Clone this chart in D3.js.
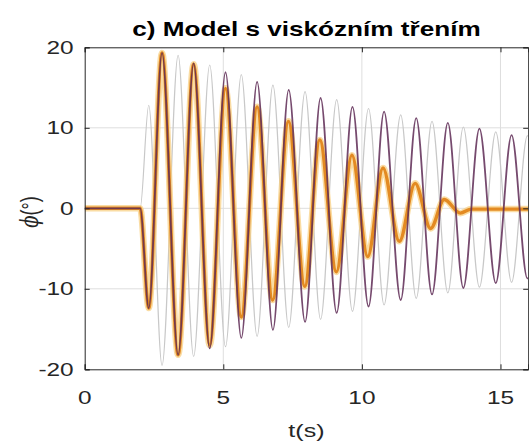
<!DOCTYPE html>
<html>
<head>
<meta charset="utf-8">
<script src="https://cdn.jsdelivr.net/npm/d3@7"></script>
<style>
  html, body { margin: 0; padding: 0; background: #fff; }
  svg { display: block; }
  text { font-family: "Liberation Sans", Arial, Helvetica, sans-serif; }
</style>
</head>
<body>
<svg id="chart" width="529" height="445"></svg>
<script>
// ---------- data ----------
const titleText = "c) Model s viskózním třením";
const xTicks = [0, 5, 10, 15];
const yTicks = [-20, -10, 0, 10, 20];
const xDomain = [0, 16];
const yDomain = [-20, 20];

// reference (grey) oscillation: extrema times and values
const greyT = [0, 2.0, 2.31, 2.79, 3.37, 3.93, 4.51, 5.08, 5.65, 6.22, 6.79, 7.36, 7.95, 8.51, 9.09, 9.66, 10.24, 10.80, 11.40, 11.96, 12.53, 13.10, 13.66, 14.24, 14.83, 15.40, 15.97, 16.0];
const greyV = [0, 0, 12.8, -19.5, 19.0, -18.4, 17.8, -17.2, 16.6, -15.9, 15.3, -14.8, 14.5, -13.8, 13.5, -12.8, 12.4, -12.0, 11.6, -11.2, 10.8, -10.5, 10.1, -9.8, 9.5, -9.2, 9.0, 9.0];

// purple oscillation (same time base of extrema)
const purpleT = [0, 2.0, 2.31, 2.79, 3.37, 3.93, 4.51, 5.08, 5.65, 6.22, 6.79, 7.36, 7.95, 8.51, 9.09, 9.66, 10.24, 10.80, 11.40, 11.96, 12.53, 13.10, 13.66, 14.24, 14.83, 15.40, 15.97, 16.0];
const purpleV = [0, 0, -12.4, 19.3, -18.2, 18.0, -17.4, 16.9, -16.1, 15.7, -15.1, 14.7, -14.1, 13.7, -13.0, 12.6, -12.2, 12.0, -11.4, 11.2, -10.7, 10.6, -9.9, 9.9, -9.3, 9.1, -8.7, -8.7];

// orange (viscous friction model) oscillation
const orangeT = [0, 2.0, 2.31, 2.79, 3.37, 3.93, 4.51, 5.08, 5.65, 6.22, 6.78, 7.35, 7.94, 8.48, 9.08, 9.64, 10.21, 10.76, 11.35, 11.92, 12.48, 12.97, 13.55, 13.95, 16.0];
const orangeV = [0, 0, -12.4, 19.3, -18.2, 17.9, -17.0, 14.9, -13.5, 12.6, -11.4, 10.8, -9.7, 8.5, -7.9, 6.6, -6.0, 5.0, -4.1, 3.1, -2.5, 1.1, -0.6, -0.1, -0.1];

// ---------- layout ----------
const svg = d3.select("#chart");
const plot = { left: 84.7, right: 528.2, top: 47.3, bottom: 369.3 };
const x = d3.scaleLinear().domain(xDomain).range([plot.left, plot.right]);
const y = d3.scaleLinear().domain(yDomain).range([plot.bottom, plot.top]);
const axisColor = "#262626";
const SX = 1.32; // horizontal stretch of the source image text

// grid
const grid = svg.append("g");
grid.selectAll("line.gx").data(xTicks.filter(d => d > xDomain[0]))
  .join("line").attr("x1", d => x(d)).attr("x2", d => x(d))
  .attr("y1", plot.top).attr("y2", plot.bottom)
  .attr("stroke", "#dedede").attr("stroke-width", 1);
grid.selectAll("line.gy").data(yTicks.filter(d => d > yDomain[0] && d < yDomain[1]))
  .join("line").attr("y1", d => y(d)).attr("y2", d => y(d))
  .attr("x1", plot.left).attr("x2", plot.right)
  .attr("stroke", "#dedede").attr("stroke-width", 1);

// clip
svg.append("clipPath").attr("id", "clip").append("rect")
  .attr("x", plot.left).attr("y", plot.top - 2)
  .attr("width", plot.right - plot.left).attr("height", plot.bottom - plot.top + 4);

const line = d3.line().curve(d3.curveMonotoneX);
const toPts = (T, V) => T.map((t, i) => [x(t), y(V[i])]);
const series = svg.append("g").attr("clip-path", "url(#clip)");

series.append("path").attr("d", line(toPts(greyT, greyV)))
  .attr("fill", "none").attr("stroke", "#c8c8c8").attr("stroke-width", 1.2);
series.append("path").attr("d", line(toPts(orangeT, orangeV)))
  .attr("fill", "none").attr("stroke", "#f8cd7c").attr("stroke-width", 6.5)
  .attr("stroke-opacity", 0.7).attr("stroke-linejoin", "round");
series.append("path").attr("d", line(toPts(orangeT, orangeV)))
  .attr("fill", "none").attr("stroke", "#e38a22").attr("stroke-width", 3.4)
  .attr("stroke-linejoin", "round");
series.append("path").attr("d", line(toPts(purpleT, purpleV)))
  .attr("fill", "none").attr("stroke", "#5e2a55").attr("stroke-width", 1.8)
  .attr("stroke-opacity", 0.85);

// axes (ticks inward, box)
const xAxisB = d3.axisBottom(x).tickValues(xTicks).tickSize(-5).tickFormat("");
const xAxisT = d3.axisTop(x).tickValues(xTicks).tickSize(-5).tickFormat("");
const yAxisL = d3.axisLeft(y).tickValues(yTicks).tickSize(-5).tickFormat("");
const yAxisR = d3.axisRight(y).tickValues(yTicks).tickSize(-5).tickFormat("");
function styleAxis(g) {
  g.selectAll("path.domain").attr("stroke", axisColor).attr("stroke-width", 1);
  g.selectAll(".tick line").attr("stroke", axisColor).attr("stroke-width", 1);
}
svg.append("g").attr("transform", `translate(0,${plot.bottom})`).call(xAxisB).call(styleAxis);
svg.append("g").attr("transform", `translate(0,${plot.top})`).call(xAxisT).call(styleAxis);
svg.append("g").attr("transform", `translate(${plot.left},0)`).call(yAxisL).call(styleAxis);
svg.append("g").attr("transform", `translate(${plot.right},0)`).call(yAxisR).call(styleAxis);

// tick labels
svg.append("g").selectAll("text").data(xTicks).join("text")
  .attr("transform", d => `translate(${x(d)},${plot.bottom + 35}) scale(${SX},1)`)
  .attr("text-anchor", "middle").attr("font-size", 18.5).attr("fill", axisColor)
  .text(d => d);
svg.append("g").selectAll("text").data(yTicks).join("text")
  .attr("transform", d => `translate(${plot.left - 11},${y(d) + 6.5}) scale(${SX},1)`)
  .attr("text-anchor", "end").attr("font-size", 18.5).attr("fill", axisColor)
  .text(d => d);

// title
svg.append("text")
  .attr("transform", `translate(${(plot.left + plot.right) / 2},36) scale(${SX},1)`)
  .attr("text-anchor", "middle").attr("font-size", 19.8).attr("font-weight", "bold")
  .attr("fill", "#000").text(titleText);

// axis labels
svg.append("text")
  .attr("transform", `translate(${(plot.left + plot.right) / 2},437) scale(${SX},1)`)
  .attr("text-anchor", "middle").attr("font-size", 19).attr("fill", axisColor)
  .text("t(s)");
const yl = svg.append("text")
  .attr("transform", `translate(38,212) rotate(-90) scale(1,${SX})`)
  .attr("text-anchor", "middle").attr("font-size", 18).attr("fill", axisColor);
yl.append("tspan").attr("font-family", "DejaVu Serif").attr("font-style", "italic").text("ϕ");
yl.append("tspan").text("(°)");
</script>
</body>
</html>
